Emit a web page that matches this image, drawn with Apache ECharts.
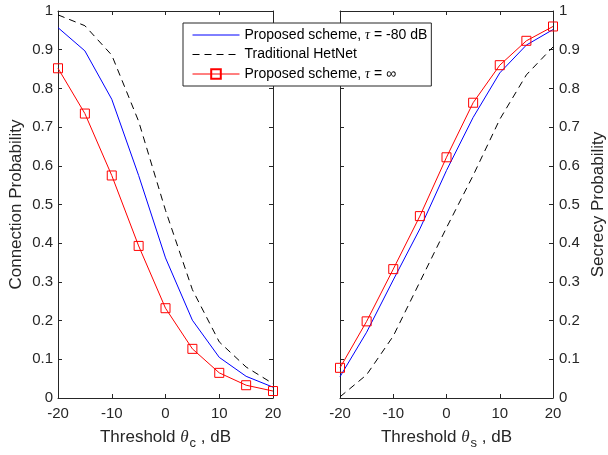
<!DOCTYPE html>
<html>
<head>
<meta charset="utf-8">
<script src="https://cdn.jsdelivr.net/npm/echarts@6/dist/echarts.min.js"></script>
<style>html,body{margin:0;padding:0;background:#fff}#c{width:608px;height:455px}</style>
</head>
<body>
<div id="c"></div>
<script>
var thresholds = [-20, -15, -10, -5, 0, 5, 10, 15, 20];
var connBlue  = [0.957, 0.897, 0.772, 0.575, 0.362, 0.201, 0.105, 0.056, 0.028];
var connBlack = [0.990, 0.962, 0.886, 0.715, 0.485, 0.280, 0.145, 0.080, 0.037];
var connRed   = [0.852, 0.735, 0.575, 0.393, 0.232, 0.127, 0.065, 0.033, 0.018];
var secBlue   = [0.055, 0.170, 0.305, 0.437, 0.588, 0.725, 0.840, 0.912, 0.952];
var secBlack  = [0.003, 0.060, 0.160, 0.300, 0.440, 0.575, 0.720, 0.835, 0.907];
var secRed    = [0.078, 0.198, 0.333, 0.470, 0.622, 0.763, 0.860, 0.923, 0.960];
var xTicks = {min: -20, max: 20, interval: 10};
var yTicks = {min: 0, max: 1, interval: 0.1};
var names = ['Proposed scheme, τ = -80 dB', 'Traditional HetNet', 'Proposed scheme, τ = ∞'];

function pairs(ys){ return thresholds.map(function(x,i){ return [x, ys[i]]; }); }

var axisCol = '#262626';
var font = 'Liberation Sans, Arial, Helvetica, sans-serif';
var serif = 'Liberation Serif, DejaVu Serif, serif';

function xAx(grid, pos, showLabel, nameRich){
  var a = {
    type: 'value', gridIndex: grid, position: pos,
    min: xTicks.min, max: xTicks.max, interval: xTicks.interval,
    axisLine: {show: true, onZero: false, lineStyle: {color: axisCol, width: 1}},
    axisTick: {show: true, inside: true, length: 4, lineStyle: {color: axisCol}},
    axisLabel: {show: showLabel, color: axisCol, fontSize: 15, fontFamily: font, margin: 8},
    splitLine: {show: false}
  };
  if (nameRich) {
    a.name = nameRich;
    a.nameLocation = 'middle';
    a.nameGap = 27;
    a.nameTextStyle = {
      color: axisCol, fontSize: 17, fontFamily: font,
      rich: {
        t: {fontSize: 17, fontFamily: serif, fontStyle: 'italic', color: axisCol},
        s: {fontSize: 13, fontFamily: font, color: axisCol, padding: [12, 0, 0, 1]}
      }
    };
  }
  return a;
}
function yAx(grid, pos, showLabel, name, gap){
  var a = {
    type: 'value', gridIndex: grid, position: pos,
    min: yTicks.min, max: yTicks.max, interval: yTicks.interval,
    axisLine: {show: true, onZero: false, lineStyle: {color: axisCol, width: 1}},
    axisTick: {show: true, inside: true, length: 4, lineStyle: {color: axisCol}},
    axisLabel: {show: showLabel, color: axisCol, fontSize: 15, fontFamily: font, margin: pos === 'left' ? 5 : 6},
    splitLine: {show: false}
  };
  if (name) {
    a.name = name; a.nameLocation = 'middle'; a.nameGap = gap;
    a.nameRotate = 90;
    a.nameTextStyle = {color: axisCol, fontSize: 17, fontFamily: font};
  }
  return a;
}

function mkSeries(xi, yi, ys, kind){
  var s = {
    type: 'line', xAxisIndex: xi, yAxisIndex: yi, data: pairs(ys),
    name: names[kind], clip: false, animation: false, z: 3 + (kind === 2 ? 1 : 0)
  };
  if (kind === 0) {
    s.symbol = 'none';
    s.lineStyle = {color: '#0000ff', width: 1};
    s.itemStyle = {color: '#0000ff'};
  } else if (kind === 1) {
    s.symbol = 'none';
    s.lineStyle = {color: '#000000', width: 1, type: [7, 5]};
    s.itemStyle = {color: '#000000'};
  } else {
    s.symbol = 'rect'; s.symbolSize = 9;
    s.lineStyle = {color: '#ff0000', width: 1};
    s.itemStyle = {color: 'rgba(255,255,255,0)', borderColor: '#ff0000', borderWidth: 1};
  }
  return s;
}

var chart = echarts.init(document.getElementById('c'), null, {renderer: 'canvas'});
chart.setOption({
  animation: false,
  backgroundColor: '#fff',
  grid: [
    {left: 58, top: 11, width: 215, height: 391},
    {left: 340, top: 11, width: 216, height: 391}
  ],
  xAxis: [
    xAx(0, 'bottom', true, 'Threshold {t|θ}{s|c} , dB'),
    xAx(0, 'top', false),
    xAx(1, 'bottom', true, 'Threshold {t|θ}{s|s} , dB'),
    xAx(1, 'top', false)
  ],
  yAxis: [
    yAx(0, 'left', true, 'Connection Probability', 33),
    yAx(0, 'right', false),
    yAx(1, 'right', true, 'Secrecy Probability', 37),
    yAx(1, 'left', false)
  ],
  legend: {
    show: true, orient: 'vertical', left: 183, top: 23,
    data: [
      {name: names[0], itemStyle: {opacity: 0}, lineStyle: {width: 1, color: '#0000ff'}},
      {name: names[1], itemStyle: {opacity: 0}, lineStyle: {width: 1, color: '#000000', type: [7, 5]}},
      {name: names[2], lineStyle: {width: 1, color: '#ff0000'}}
    ],
    backgroundColor: '#fff', borderColor: axisCol, borderWidth: 1, borderRadius: 0,
    padding: [5, 4, 5, 9],
    itemWidth: 47, itemHeight: 12, itemGap: 5.5,
    selectedMode: false,
    textStyle: {color: '#000', fontSize: 14, fontFamily: font,
      rich: {g: {fontSize: 14, fontFamily: serif, fontStyle: 'italic', color: '#000'},
             n: {fontSize: 14, fontFamily: font, color: '#000'}}},
    formatter: function(n){
      return n.replace(/τ/g, '{g|τ}').replace(/∞/g, '{n|∞}');
    }
  },
  series: [
    mkSeries(0, 0, connBlue, 0),
    mkSeries(0, 0, connBlack, 1),
    mkSeries(0, 0, connRed, 2),
    mkSeries(2, 2, secBlue, 0),
    mkSeries(2, 2, secBlack, 1),
    mkSeries(2, 2, secRed, 2)
  ]
});
</script>
</body>
</html>
